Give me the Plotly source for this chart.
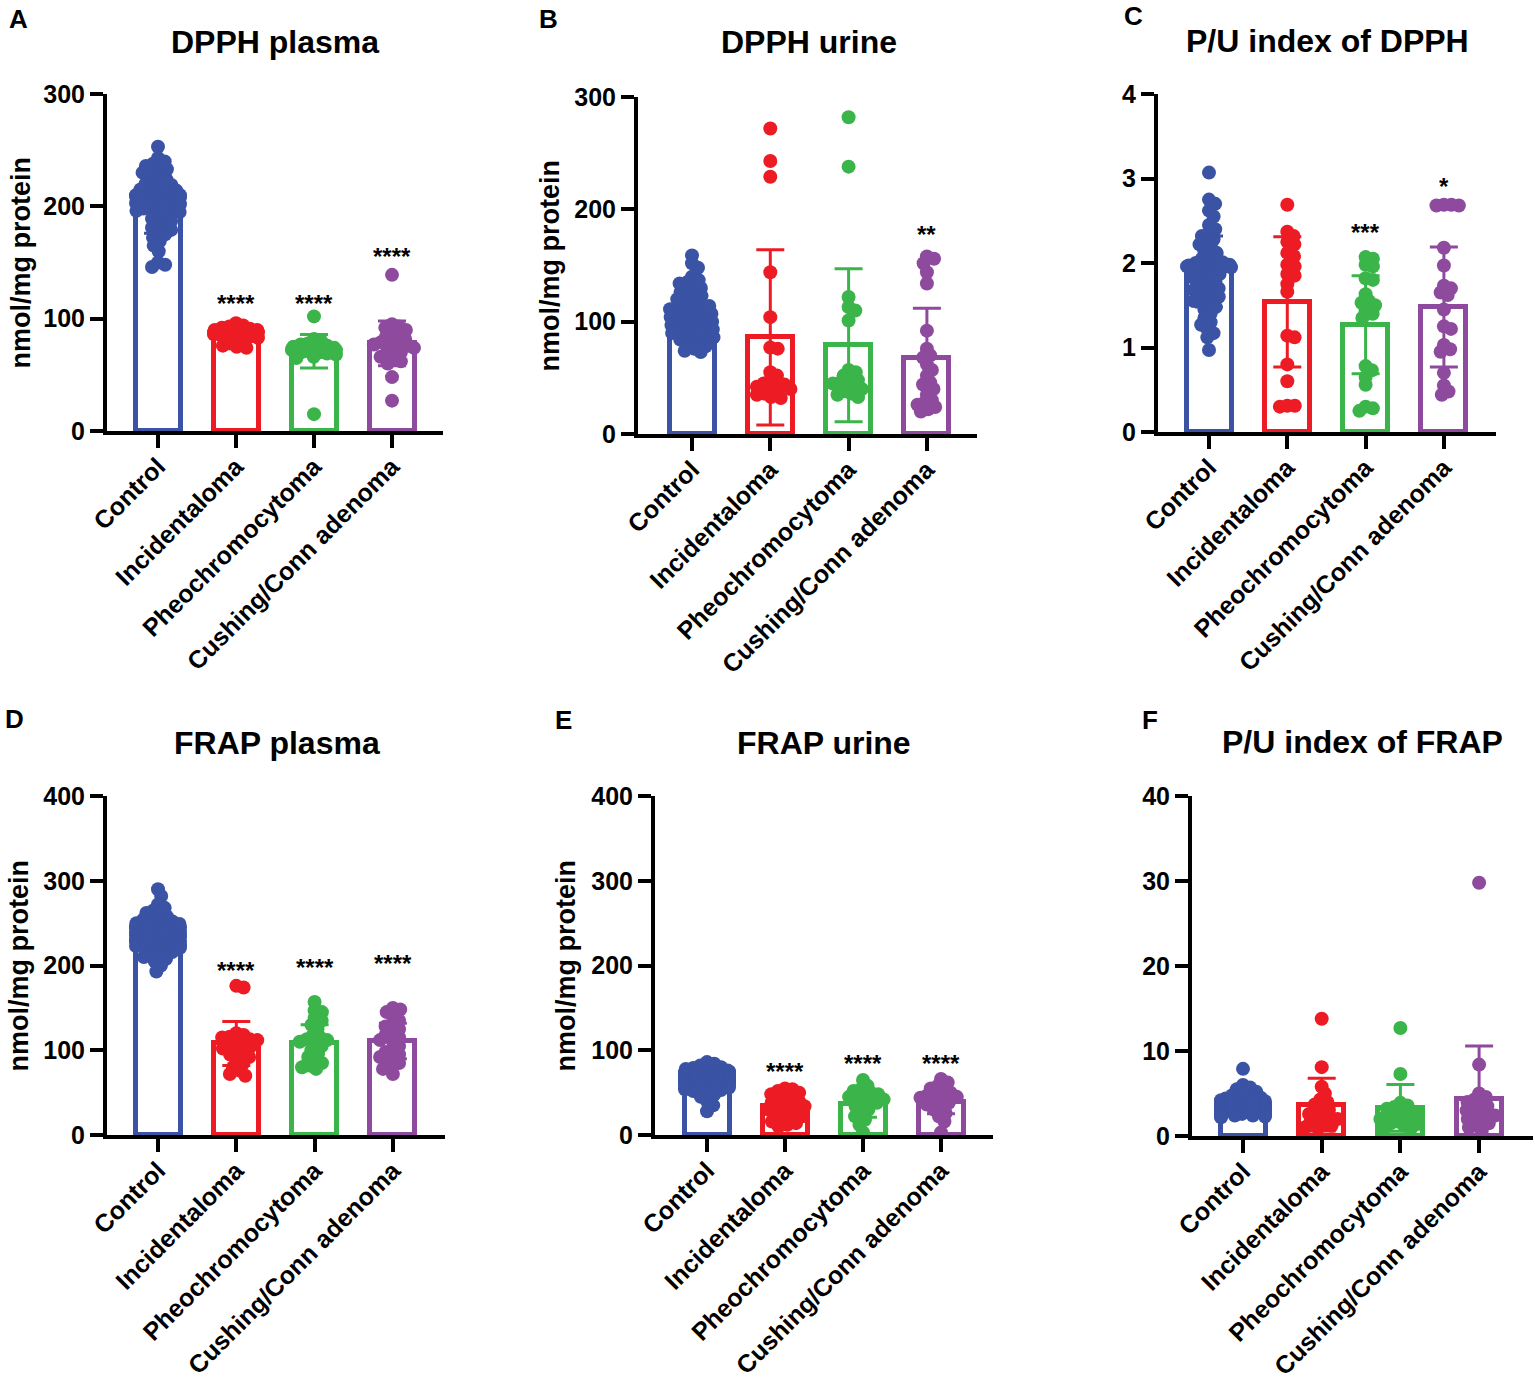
import plotly.graph_objects as go

W, H = 1535, 1380

groups = ["Control", "Incidentaloma", "Pheochromocytoma", "Cushing/Conn adenoma"]
colors = ["#3A53A4", "#ED1C24", "#3BB54A", "#8E4B9E"]

# ---- A: DPPH plasma ----
dpph_plasma = [
    [253, 243, 240, 238, 236, 235, 233, 231, 230, 228, 226, 224, 222, 220, 219, 218, 216, 215, 214, 213,
     212, 211, 210, 210, 209, 208, 207, 206, 205, 204, 203, 202, 201, 200, 199, 198, 197, 196, 195, 193,
     191, 189, 187, 185, 183, 181, 179, 177, 175, 172, 169, 165, 160, 150, 148, 146],
    [96, 94, 93, 92, 91, 90, 90, 89, 88, 88, 87, 86, 86, 85, 84, 83, 82, 80, 78, 76, 75, 74],
    [102, 82, 80, 78, 77, 76, 75, 75, 74, 73, 72, 72, 71, 70, 70, 69, 68, 66, 65, 15],
    [139, 95, 93, 92, 90, 88, 86, 84, 82, 80, 79, 78, 77, 76, 75, 74, 72, 70, 68, 66, 64, 62, 60, 48, 27],
]
dpph_plasma_mean = [200, 87, 71, 78]
dpph_plasma_sd = [24, 6, 15, 20]
dpph_plasma_stars = ["", "****", "****", "****"]
dpph_plasma_star_y = [None, 115, 115, 157]

# ---- B: DPPH urine ----
dpph_urine = [
    [159, 152, 148, 140, 137, 135, 134, 132, 130, 128, 126, 125, 123, 121, 120, 118, 116, 115, 114, 113,
     112, 111, 110, 109, 108, 107, 106, 105, 104, 103, 102, 101, 100, 99, 98, 97, 96, 95, 94, 93,
     92, 91, 90, 89, 88, 87, 86, 85, 84, 82, 80, 78, 76, 74, 73],
    [272, 243, 229, 144, 104, 77, 76, 55, 52, 48, 45, 45, 44, 42, 40, 40, 38, 36, 35, 33, 32],
    [282, 238, 122, 113, 110, 101, 57, 55, 52, 50, 48, 46, 45, 44, 42, 40, 38, 36, 35, 33],
    [158, 156, 152, 144, 134, 92, 76, 70, 68, 62, 57, 52, 46, 44, 40, 35, 30, 28, 26, 24, 22, 20],
]
dpph_urine_mean = [108, 86, 79, 68]
dpph_urine_sd = [20, 78, 68, 44]
dpph_urine_stars = ["", "", "", "**"]
dpph_urine_star_y = [None, None, None, 179]

# ---- C: P/U index of DPPH ----
pu_dpph = [
    [3.07, 2.75, 2.70, 2.62, 2.55, 2.45, 2.40, 2.35, 2.32, 2.28, 2.25, 2.22, 2.18, 2.15, 2.12, 2.08, 2.05,
     2.03, 2.01, 2.00, 1.99, 1.98, 1.97, 1.96, 1.95, 1.93, 1.91, 1.89, 1.87, 1.85, 1.83, 1.80, 1.78, 1.75,
     1.72, 1.70, 1.68, 1.65, 1.62, 1.60, 1.57, 1.55, 1.52, 1.48, 1.45, 1.40, 1.35, 1.30, 1.27, 1.22, 1.17,
     1.12, 0.97],
    [2.69, 2.37, 2.32, 2.25, 2.22, 2.12, 2.08, 1.98, 1.96, 1.87, 1.85, 1.75, 1.66, 1.14, 1.12, 0.80, 0.60,
     0.31, 0.31, 0.30],
    [2.07, 2.05, 1.98, 1.96, 1.82, 1.80, 1.63, 1.55, 1.53, 1.50, 1.43, 1.40, 1.35, 0.78, 0.73, 0.65, 0.56,
     0.30, 0.28, 0.25],
    [2.69, 2.69, 2.68, 2.68, 2.18, 1.97, 1.73, 1.70, 1.65, 1.62, 1.45, 1.25, 1.22, 1.03, 0.98, 0.95, 0.70,
     0.55, 0.48, 0.44],
]
pu_dpph_mean = [1.90, 1.54, 1.27, 1.48]
pu_dpph_sd = [0.42, 0.77, 0.58, 0.71]
pu_dpph_stars = ["", "", "***", "*"]
pu_dpph_star_y = [None, None, 2.39, 2.93]

# ---- D: FRAP plasma ----
frap_plasma = [
    [290, 282, 272, 268, 265, 262, 260, 258, 256, 254, 252, 251, 250, 249, 248, 247, 246, 245, 244, 243,
     242, 241, 240, 239, 238, 237, 236, 235, 234, 233, 232, 231, 230, 229, 228, 227, 226, 225, 224, 223,
     222, 221, 220, 218, 216, 214, 212, 210, 208, 205, 200, 193],
    [176, 174, 120, 118, 116, 115, 113, 112, 110, 108, 106, 104, 102, 100, 98, 95, 92, 88, 84, 80, 76, 72, 70],
    [157, 147, 145, 138, 135, 130, 125, 118, 115, 113, 112, 110, 108, 105, 100, 96, 92, 88, 85, 82, 80, 78],
    [150, 148, 145, 140, 135, 130, 128, 125, 120, 118, 115, 112, 110, 105, 100, 98, 95, 92, 90, 85, 82, 78, 72],
]
frap_plasma_mean = [238, 108, 108, 111]
frap_plasma_sd = [20, 26, 22, 21]
frap_plasma_stars = ["", "****", "****", "****"]
frap_plasma_star_y = [None, 197, 200, 205]

# ---- E: FRAP urine ----
frap_urine = [
    [86, 84, 82, 80, 79, 78, 77, 76, 75, 75, 74, 74, 73, 73, 72, 72, 71, 71, 70, 70, 69, 69, 68, 68, 67,
     67, 66, 66, 65, 65, 64, 64, 63, 62, 62, 61, 60, 60, 59, 58, 57, 56, 55, 54, 53, 52, 50, 48, 45, 40,
     35, 28],
    [55, 54, 52, 50, 48, 46, 44, 42, 40, 38, 36, 35, 34, 32, 30, 28, 26, 24, 22, 20, 18, 16, 14, 12, 10],
    [65, 58, 54, 52, 50, 48, 46, 45, 43, 42, 40, 38, 36, 34, 30, 26, 22, 18, 12, 3],
    [66, 62, 58, 55, 52, 50, 48, 47, 45, 44, 42, 40, 38, 36, 33, 30, 26, 22, 16, 3],
]
frap_urine_mean = [67, 34, 37, 39]
frap_urine_sd = [12, 14, 16, 14]
frap_urine_stars = ["", "****", "****", "****"]
frap_urine_star_y = [None, 77, 87, 87]

# ---- F: P/U index of FRAP ----
pu_frap = [
    [7.9, 6.0, 5.7, 5.5, 5.2, 5.0, 4.8, 4.6, 4.5, 4.4, 4.3, 4.2, 4.1, 4.0, 3.9, 3.8, 3.8, 3.7, 3.7, 3.6,
     3.6, 3.5, 3.5, 3.4, 3.4, 3.3, 3.3, 3.2, 3.2, 3.1, 3.1, 3.0, 3.0, 2.9, 2.9, 2.8, 2.8, 2.7, 2.7, 2.6,
     2.6, 2.5, 2.5, 2.4, 2.4, 2.3, 2.3, 2.2],
    [13.8, 8.1, 5.8, 5.0, 4.3, 4.0, 3.7, 3.4, 3.1, 2.8, 2.6, 2.4, 2.2, 2.0, 1.8, 1.6, 1.4, 1.2, 1.0, 0.9],
    [12.7, 7.3, 3.9, 3.6, 3.4, 3.2, 3.0, 2.8, 2.6, 2.5, 2.3, 2.2, 2.0, 1.9, 1.7, 1.5, 1.4, 1.2, 1.0, 0.9],
    [29.8, 8.4, 5.0, 4.6, 4.3, 4.0, 3.7, 3.5, 3.2, 3.0, 2.8, 2.6, 2.4, 2.2, 2.0, 1.8, 1.5, 1.2, 1.0, 0.6],
]
pu_frap_mean = [3.6, 3.7, 3.3, 4.3]
pu_frap_sd = [1.1, 3.1, 2.75, 6.3]
pu_frap_stars = ["", "", "", ""]
pu_frap_star_y = [None, None, None, None]

# panel layout in pixels: axis box (x0, x1, ytop, ybottom), first category px, category step px
panels = [
    dict(letter="A", title="DPPH plasma", pts=dpph_plasma, mean=dpph_plasma_mean, sd=dpph_plasma_sd,
         stars=dpph_plasma_stars, star_y=dpph_plasma_star_y, ymax=300, dtick=100, ytitle=True,
         box=(107, 443, 94, 431), cat0=158, step=78.0, title_xy=(275, 42), letter_xy=(18, 19), ytitle_x=20),
    dict(letter="B", title="DPPH urine", pts=dpph_urine, mean=dpph_urine_mean, sd=dpph_urine_sd,
         stars=dpph_urine_stars, star_y=dpph_urine_star_y, ymax=300, dtick=100, ytitle=True,
         box=(638, 977, 97, 434), cat0=692, step=78.3, title_xy=(809, 42), letter_xy=(548, 19), ytitle_x=550),
    dict(letter="C", title="P/U index of DPPH", pts=pu_dpph, mean=pu_dpph_mean, sd=pu_dpph_sd,
         stars=pu_dpph_stars, star_y=pu_dpph_star_y, ymax=4, dtick=1, ytitle=False,
         box=(1158, 1496, 94, 432), cat0=1209, step=78.3, title_xy=(1327, 41), letter_xy=(1133, 16), ytitle_x=None),
    dict(letter="D", title="FRAP plasma", pts=frap_plasma, mean=frap_plasma_mean, sd=frap_plasma_sd,
         stars=frap_plasma_stars, star_y=frap_plasma_star_y, ymax=400, dtick=100, ytitle=True,
         box=(107, 445, 796, 1135), cat0=158, step=78.3, title_xy=(277, 743), letter_xy=(15, 719), ytitle_x=18),
    dict(letter="E", title="FRAP urine", pts=frap_urine, mean=frap_urine_mean, sd=frap_urine_sd,
         stars=frap_urine_stars, star_y=frap_urine_star_y, ymax=400, dtick=100, ytitle=True,
         box=(655, 993, 796, 1135), cat0=707, step=78.0, title_xy=(824, 743), letter_xy=(563, 720), ytitle_x=565),
    dict(letter="F", title="P/U index of FRAP", pts=pu_frap, mean=pu_frap_mean, sd=pu_frap_sd,
         stars=pu_frap_stars, star_y=pu_frap_star_y, ymax=40, dtick=10, ytitle=False,
         box=(1192, 1533, 796, 1136), cat0=1243, step=78.7, title_xy=(1362, 742), letter_xy=(1150, 720), ytitle_x=None),
]

FONT = "Arial, Liberation Sans, Helvetica, sans-serif"
DOT = 14
BAR_LINE = 5


def swarm(vals, py, d=7.5, lim=22.0):
    # simple beeswarm in pixel space, returns x offsets in px
    order = sorted(range(len(vals)), key=lambda i: -vals[i])
    placed = []
    xs = [0.0] * len(vals)
    for i in order:
        y = vals[i] * py
        cands = [0.0]
        for (qx, qy) in placed:
            dy = abs(qy - y)
            if dy < d:
                dx = (d * d - dy * dy) ** 0.5
                cands += [qx + dx, qx - dx]
        cands.sort(key=abs)
        best = None
        for c in cands:
            if all((c - qx) ** 2 + (y - qy) ** 2 >= d * d - 1e-6 for qx, qy in placed):
                best = c
                break
        if best is None:
            best = 0.0
        best = max(-lim, min(lim, best))
        placed.append((best, y))
        xs[i] = best
    return xs


fig = go.Figure()
annotations = []
layout = {}

for n, p in enumerate(panels, start=1):
    x0, x1, yt, yb = p["box"]
    step = p["step"]
    xr = [-(p["cat0"] - x0) / step, 3 + (x1 - (p["cat0"] + 3 * step)) / step]
    py = (yb - yt) / p["ymax"]
    xa = "x" if n == 1 else f"x{n}"
    ya = "y" if n == 1 else f"y{n}"
    bw = (50 - BAR_LINE) / step

    fig.add_trace(go.Bar(
        x=[0, 1, 2, 3], y=p["mean"], width=bw, xaxis=xa, yaxis=ya,
        marker=dict(color="white", line=dict(color=colors, width=BAR_LINE)),
        hoverinfo="skip",
    ))
    for g in range(4):
        vals = p["pts"][g]
        offs = swarm(vals, py)
        fig.add_trace(go.Scatter(
            x=[g + o / step for o in offs], y=vals, mode="markers", xaxis=xa, yaxis=ya,
            marker=dict(size=DOT, color=colors[g], line=dict(width=0)),
            cliponaxis=False, hoverinfo="skip",
        ))
    for g in range(4):
        m, s = p["mean"][g], p["sd"][g]
        fig.add_trace(go.Scatter(
            x=[g], y=[m], mode="markers", xaxis=xa, yaxis=ya,
            marker=dict(size=1, color=colors[g], opacity=0),
            error_y=dict(type="data", symmetric=False, array=[s], arrayminus=[min(s, m)],
                         color=colors[g], thickness=3, width=14),
            hoverinfo="skip",
        ))
        if p["stars"][g]:
            annotations.append(dict(
                x=g, y=p["star_y"][g], xref=xa, yref=ya, text=p["stars"][g], showarrow=False,
                xanchor="center", yanchor="middle", yshift=-2,
                font=dict(family=FONT, size=24, color="black", weight="bold"),
            ))

    axis_common = dict(showline=True, linecolor="black", linewidth=4, ticks="outside",
                       ticklen=13, tickwidth=4, tickcolor="black", showgrid=False, zeroline=False,
                       automargin=False,
                       tickfont=dict(family=FONT, size=25, color="black", weight="bold"))
    layout["xaxis" if n == 1 else f"xaxis{n}"] = dict(
        axis_common, domain=[x0 / W, x1 / W], range=xr, anchor=ya,
        tickvals=[0, 1, 2, 3], ticktext=groups, tickangle=-45, fixedrange=True,
        ticklabelstandoff=-6,
    )
    layout["yaxis" if n == 1 else f"yaxis{n}"] = dict(
        axis_common, domain=[1 - yb / H, 1 - yt / H], range=[0, p["ymax"]], anchor=xa,
        tickvals=[k * p["dtick"] for k in range(int(round(p["ymax"] / p["dtick"])) + 1)],
        fixedrange=True,
    )

    tx, ty = p["title_xy"]
    annotations.append(dict(
        x=tx / W, y=1 - ty / H, xref="paper", yref="paper", text=p["title"], showarrow=False,
        xanchor="center", yanchor="middle",
        font=dict(family=FONT, size=32, color="black", weight="bold"),
    ))
    lx, ly = p["letter_xy"]
    annotations.append(dict(
        x=lx / W, y=1 - ly / H, xref="paper", yref="paper", text=p["letter"], showarrow=False,
        xanchor="center", yanchor="middle",
        font=dict(family=FONT, size=26, color="black", weight="bold"),
    ))
    if p["ytitle"]:
        annotations.append(dict(
            x=p["ytitle_x"] / W, y=1 - (yt + yb) / 2 / H, xref="paper", yref="paper",
            text="nmol/mg protein", showarrow=False, textangle=-90,
            xanchor="center", yanchor="middle",
            font=dict(family=FONT, size=27, color="black", weight="bold"),
        ))

fig.update_layout(
    width=W, height=H, margin=dict(l=0, r=0, t=0, b=0, pad=0, autoexpand=False),
    paper_bgcolor="white", plot_bgcolor="white", showlegend=False,
    bargap=0, annotations=annotations, **layout,
)

# drop the page's default body margin so the figure sits at the window corner
fig.write_html("out.html", config={"displayModeBar": False},
               post_script="document.body.style.margin='0';")
